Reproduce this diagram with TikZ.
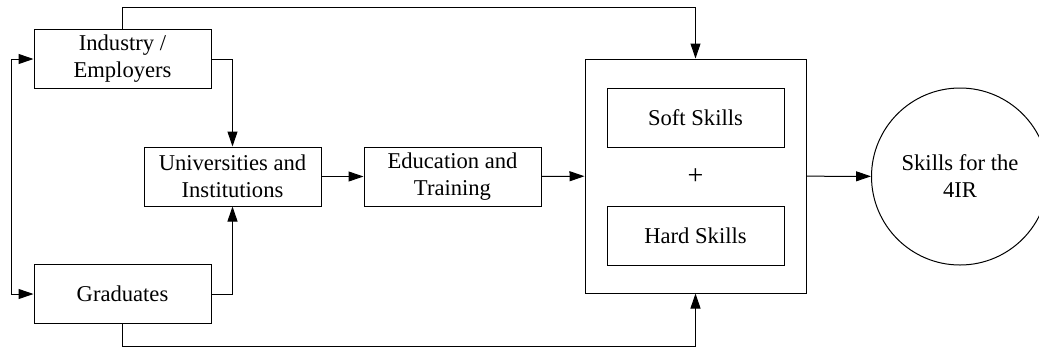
\documentclass[tikz,border=0pt]{standalone}
\usepackage{fontspec}
\setmainfont{Liberation Serif}
\usetikzlibrary{arrows.meta}

\begin{document}
\begin{tikzpicture}[x=0.5pt,y=-0.5pt]

\tikzset{box/.style = {shape=rectangle,draw,line width=0.5pt,minimum width=88.5pt,minimum height=29.5pt,inner sep=0pt,align=center,font=\fontsize{11.3}{13.5}\selectfont}}
\tikzset{edge/.style = {-{Triangle[length=7.5pt,width=5pt]},line width=0.5pt}}
\useasboundingbox (0,0) rectangle (1039,349);

% vertices
\node[box] (ind) at (122.5,59) {Industry /\\Employers};
\node[box] (grad) at (122.5,294) {Graduates};
\node[box] (uni) at (232.5,176.5) {Universities and\\Institutions};
\node[box] (edu) at (452.5,176.5) {Education and\\Training};

\node[box,minimum width=110.5pt,minimum height=117pt] (big) at (695.5,176) {};
\node[box] (soft) at (695.5,117.5) {Soft Skills};
\node[box] (hard) at (695.5,235.5) {Hard Skills};
\node[font=\fontsize{14}{14}\selectfont] (plus) at (695.5,176.5) {+};

\node[box,shape=circle,minimum size=88.5pt] (goal) at (960,176.5) {Skills for the\\4IR};

%edges
\draw[edge] (ind.north) -- ++(0,-22) -| (big.north);
\draw[edge] (grad.south) -- ++(0,22) -| (big.south);
\draw[edge,{Triangle[length=7.5pt,width=5pt]}-{Triangle[length=7.5pt,width=5pt]}] (ind.west) -- ++(-22,0) |- (grad.west);

\draw[edge] (ind.east) -| (uni.north);
\draw[edge] (grad.east) -| (uni.south);

\draw[edge] (uni) to (edu);
\draw[edge] (edu) to (big);
\draw[edge] (big) to (goal);

\end{tikzpicture}
\end{document}
